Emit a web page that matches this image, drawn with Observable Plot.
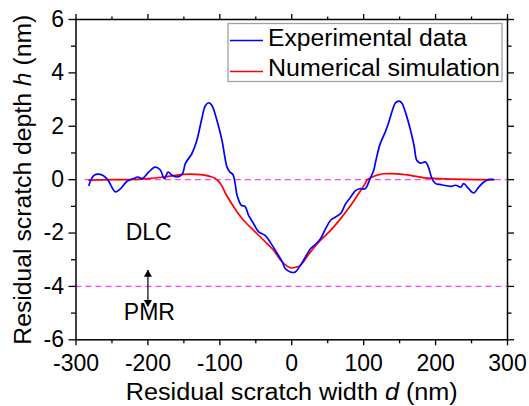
<!DOCTYPE html>
<html><head><meta charset="utf-8">
<script src="https://cdn.jsdelivr.net/npm/d3@7"></script>
<script src="https://cdn.jsdelivr.net/npm/@observablehq/plot@0.6"></script>
<style>
body{margin:0;background:#fff;}
#chart{width:529px;height:406px;}
</style></head><body><div id="chart"></div>
<script>
// Experimental data (blue)
const expX = [-282,-275,-266,-257,-245,-238,-229,-220,-214,-208,-199,-190,-183,-177,-172,-166,-159,-152,-148,-139,-132,-125,-120,-115,-111,-104,-97,-90,-86,-82,-79,-76,-70,-65,-60,-53,-46,-37,-30,-20,-13,-9,-2,5,12,19,26,33,40,47,54,61,68,75,82,89,95,102,109,114,117,123,130,135,140,144,149,153,158,164,170,174,179,186,190,195,200,206,211,221,228,235,239,246,253,260,267,274,281];
const expY = [-0.21,0.16,0.20,0.04,-0.46,-0.34,-0.06,0.04,0.10,0.04,0.28,0.47,0.37,0.04,0.28,0.16,0.10,0.22,0.60,0.97,1.47,2.29,2.78,2.88,2.78,2.22,1.47,0.47,0.28,0.20,-0.10,-0.59,-0.96,-1.00,-1.34,-1.65,-1.96,-2.09,-2.34,-2.77,-3.09,-3.33,-3.46,-3.46,-3.21,-2.90,-2.59,-2.42,-2.21,-1.84,-1.52,-1.40,-1.27,-0.90,-0.65,-0.40,-0.34,-0.34,0.04,0.35,0.72,1.35,1.78,2.16,2.60,2.87,2.94,2.87,2.53,1.97,1.29,0.72,0.62,0.66,0.47,0.04,-0.15,-0.18,-0.21,-0.25,-0.21,-0.28,-0.15,-0.34,-0.50,-0.28,-0.09,0.00,0.00];
// Numerical simulation (red)
const simX = [-282,-250,-230,-200,-178,-150,-127,-115,-108,-99,-92,-85,-76,-67,-53,-39,-25,-16,-6,0,7,12,26,40,54,68,82,93,102,105,112,120,128,147,165,184,204,240,280];
const simY = [-0.02,0.0,0.0,0.04,0.10,0.20,0.19,0.13,0.07,-0.15,-0.52,-0.84,-1.21,-1.52,-1.90,-2.27,-2.65,-3.00,-3.25,-3.31,-3.27,-3.21,-2.71,-2.27,-1.90,-1.46,-0.96,-0.52,-0.15,0.0,0.10,0.18,0.22,0.22,0.16,0.07,0.04,0.01,0.0];
// Axes
const xTicks = [-300,-200,-100,0,100,200,300];
const xMinor = [-250,-150,-50,50,150,250];
const yTicks = [-6,-4,-2,0,2,4,6];
const yMinor = [-5,-3,-1,1,3,5];
// Reference dashed lines
const refY = [0, -4];
const refFrom = [-287, -300];
const refTo = [300, 300];
// Annotations
const labels = ["DLC", "PMR"];
const labelX = [-199, -198];
const labelY = [-2, -5];
const arrowX = -200;
const arrowTop = -3.55, arrowBottom = -4.6;
const seriesNames = ["Experimental data", "Numerical simulation"];
const seriesColors = ["#0000ff", "#ff0000"];
const xTitle = "Residual scratch width d (nm)";
const yTitle = "Residual scratch depth h (nm)";

const exp = expX.map((x, i) => ({x, y: expY[i]}));
const sim = simX.map((x, i) => ({x, y: simY[i]}));
const refs = refY.map((y, i) => ({y, x1: refFrom[i], x2: refTo[i]}));
const ann = labels.map((t, i) => ({t, x: labelX[i], y: labelY[i]}));
const heads = [{x: arrowX, y: arrowTop, r: 0}, {x: arrowX, y: arrowBottom, r: 180}];

const fmt = d => String(d);
const blank = () => "";
const tickW = 1.3;

const plot = Plot.plot({
  width: 529, height: 406,
  marginLeft: 75.5, marginRight: 22, marginTop: 19, marginBottom: 66.7,
  style: {fontFamily: "'Liberation Sans', Arial, sans-serif", fontSize: "23px", color: "black", background: "white", overflow: "visible"},
  x: {domain: [-300, 300], label: null},
  y: {domain: [-6, 6], label: null},
  marks: [
    Plot.ruleY(refs, {y: "y", x1: "x1", x2: "x2", stroke: "#ff44ff", strokeWidth: 1.3, strokeDasharray: "6,4"}),
    Plot.line(sim, {x: "x", y: "y", stroke: seriesColors[1], strokeWidth: 1.7, curve: "catmull-rom"}),
    Plot.line(exp, {x: "x", y: "y", stroke: seriesColors[0], strokeWidth: 1.7, curve: "catmull-rom"}),
    Plot.ruleX([arrowX], {y1: arrowTop + 0.15, y2: arrowBottom - 0.15, stroke: "black", strokeWidth: 1.2}),
    Plot.dot(heads, {x: "x", y: "y", symbol: "triangle", rotate: "r", r: 3, fill: "black", stroke: null}),
    Plot.text(ann, {x: "x", y: "y", text: "t", fontSize: 23, lineAnchor: "middle"}),
    Plot.axisX({anchor: "bottom", ticks: xTicks, tickSize: 6, tickPadding: 9, tickFormat: fmt, strokeWidth: tickW, label: null}),
    Plot.axisX({anchor: "bottom", ticks: xMinor, tickSize: 4, tickFormat: blank, strokeWidth: tickW, label: null}),
    Plot.axisX({anchor: "top", ticks: xTicks, tickSize: 6, tickFormat: blank, strokeWidth: tickW, label: null}),
    Plot.axisX({anchor: "top", ticks: xMinor, tickSize: 3.5, tickFormat: blank, strokeWidth: tickW, label: null}),
    Plot.axisY({anchor: "left", ticks: yTicks, tickSize: 7, tickPadding: 5, tickFormat: fmt, strokeWidth: tickW, label: null}),
    Plot.axisY({anchor: "left", ticks: yMinor, tickSize: 4.5, tickFormat: blank, strokeWidth: tickW, label: null}),
    Plot.axisY({anchor: "right", ticks: yTicks, tickSize: 6, tickFormat: blank, strokeWidth: tickW, label: null}),
    Plot.axisY({anchor: "right", ticks: yMinor, tickSize: 3.5, tickFormat: blank, strokeWidth: tickW, label: null}),
    Plot.frame({stroke: "black", strokeWidth: 1.5}),
    Plot.text([xTitle], {frameAnchor: "bottom", dy: 53, text: d => d, fontSize: 23.5, lineAnchor: "middle", textAnchor: "middle"}),
    Plot.text([yTitle], {frameAnchor: "left", dx: -53, rotate: -90, text: d => d, fontSize: 23.5, lineAnchor: "middle", textAnchor: "middle"})
  ]
});
document.getElementById("chart").appendChild(plot);

// italicize the variable letters in axis titles; widen to the reference's stretched lettering
function italicize(str, letter, len) {
  d3.select(plot).selectAll("text").each(function() {
    if (this.textContent === str) {
      const idx = str.indexOf(" " + letter + " ") + 1;
      const el = d3.select(this);
      el.text(null);
      el.attr("textLength", len).attr("lengthAdjust", "spacingAndGlyphs");
      el.append("tspan").text(str.slice(0, idx));
      el.append("tspan").attr("font-style", "italic").text(letter);
      el.append("tspan").text(str.slice(idx + 1));
    }
  });
}
italicize(xTitle, "d", 332);
italicize(yTitle, "h", 330);

// legend inside the frame (top-right)
const sx = plot.scale("x"), sy = plot.scale("y");
const fr = {left: sx.range[0], right: sx.range[1], top: sy.range[1]};
const lg = d3.select(plot).append("g").attr("font-size", 23).attr("text-anchor", "start");
const lx = fr.right - 279, ly = fr.top + 4.5;
const legendLen = [199, 232];
lg.append("rect").attr("x", lx).attr("y", ly).attr("width", 274).attr("height", 58)
  .attr("fill", "white").attr("stroke", "#a0a0a0").attr("stroke-width", 1.3);
seriesNames.forEach((name, i) => {
  const yy = ly + 17 + i * 31;
  lg.append("line").attr("x1", lx + 2).attr("x2", lx + 35).attr("y1", yy).attr("y2", yy)
    .attr("stroke", seriesColors[i]).attr("stroke-width", 1.7);
  lg.append("text").attr("x", lx + 40).attr("y", yy + 5 + (i ? -1 : 0)).attr("fill", "black")
    .attr("text-anchor", "start").attr("textLength", legendLen[i]).attr("lengthAdjust", "spacingAndGlyphs").text(name);
});
</script></body></html>
